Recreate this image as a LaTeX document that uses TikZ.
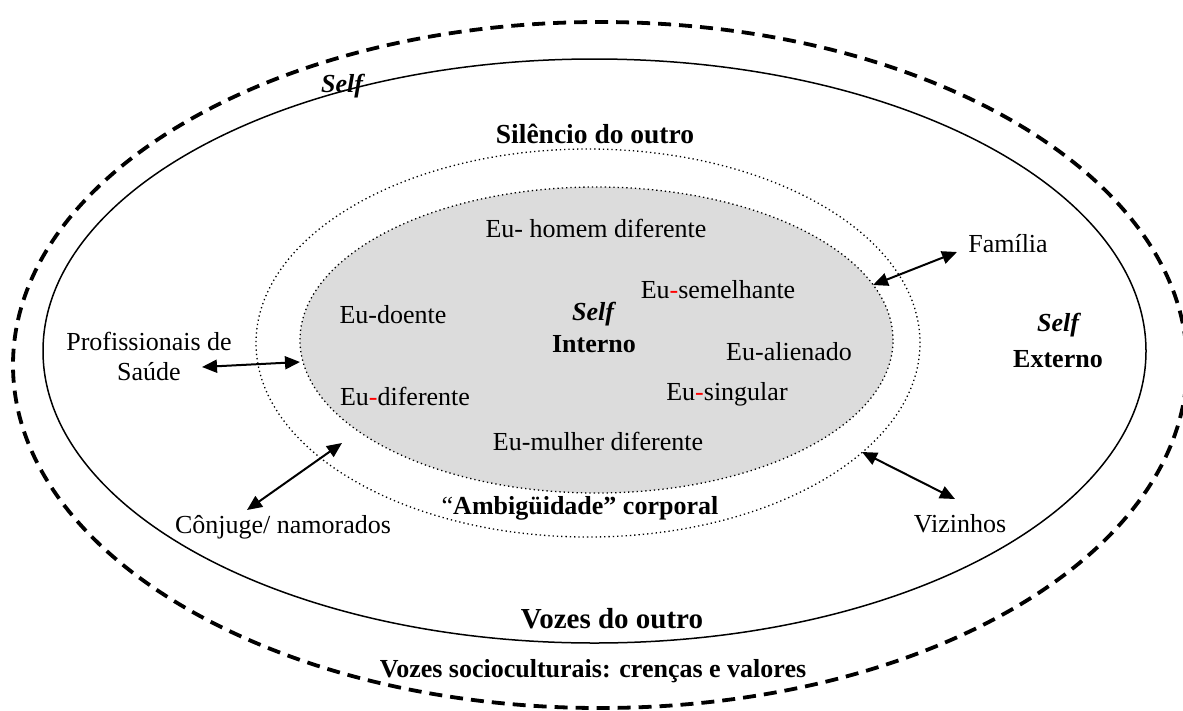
\documentclass[tikz,border=0pt]{standalone}
\usepackage{fontspec}
\setmainfont{Liberation Serif}
\usetikzlibrary{arrows.meta}
\definecolor{innergray}{RGB}{220,220,220}
\tikzset{
  txt/.style={anchor=base, inner sep=0pt, font=\fontsize{26}{31}\selectfont},
  btxt/.style={txt, font=\fontsize{26}{31}\selectfont\bfseries},
  dotline/.style={line width=1.3pt, dash pattern=on 1.3pt off 3pt},
  link/.style={line width=2pt, {Triangle[length=15pt,width=13pt]}-{Triangle[length=15pt,width=13pt]}}
}
\newcommand{\rh}{\textcolor{red}{-}}
\begin{document}
\begin{tikzpicture}[x=1pt,y=-1pt]
\useasboundingbox (0,0) rectangle (1183,710);
\begin{scope}
\clip (0,0) rectangle (1183,710);
\draw[line width=3.8pt, dash pattern=on 13pt off 8pt] (600,365) ellipse [x radius=587pt, y radius=343pt];
\end{scope}
\draw[line width=1.5pt] (594.5,351) ellipse [x radius=551.5pt, y radius=292pt];
\draw[dotline] (588,343) ellipse [x radius=332pt, y radius=194pt];
\draw[dotline, fill=innergray] (596.5,340) ellipse [x radius=296.5pt, y radius=153pt];

\node[txt, font=\fontsize{26}{31}\selectfont\bfseries\itshape] (selfa) at (342,92) {Self};
\node[btxt, font=\fontsize{27.5}{32}\selectfont\bfseries] (silencio) at (595,143) {Silêncio do outro};
\node[txt] (homem) at (596,237) {Eu- homem diferente};
\node[txt] (familia) at (1008,252) {Família};
\node[txt] (semelhante) at (718,298) {Eu\rh semelhante};
\node[txt] (doente) at (393,323) {Eu-doente};
\node[txt, font=\fontsize{26}{31}\selectfont\bfseries\itshape] (selfb) at (593,320) {Self};
\node[btxt] (interno) at (594,352) {Interno};
\node[txt] (alienado) at (789,360) {Eu-alienado};
\node[txt, font=\fontsize{26}{31}\selectfont\bfseries\itshape] (selfc) at (1058,331) {Self};
\node[btxt] (externo) at (1058,367) {Externo};
\node[txt] (prof) at (149,350) {Profissionais de};
\node[txt] (saude) at (149,380) {Saúde};
\node[txt] (diferente) at (405,405) {Eu\rh diferente};
\node[txt] (singular) at (727,400) {Eu\rh singular};
\node[txt] (mulher) at (598,450) {Eu-mulher diferente};
\node[txt] (ambig) at (580,514) {“\textbf{Ambigüidade” corporal}};
\node[txt] (conjuge) at (283,533) {Cônjuge/ namorados};
\node[txt] (vizinhos) at (960,532) {Vizinhos};
\node[btxt, font=\fontsize{29}{34}\selectfont\bfseries] (vozes) at (612,628) {Vozes do outro};
\node[btxt] (socio) at (593,677) {Vozes socioculturais: crenças e valores};

\coordinate (fa) at (873,285);
\coordinate (fb) at (957,252);
\coordinate (pa) at (202,367);
\coordinate (pb) at (300,362);
\coordinate (ca) at (247,510);
\coordinate (cb) at (342,443);
\coordinate (va) at (862,452);
\coordinate (vb) at (955,499);
\draw[link] (fa) -- (fb);
\draw[link] (pa) -- (pb);
\draw[link] (ca) -- (cb);
\draw[link] (va) -- (vb);
\end{tikzpicture}
\end{document}
